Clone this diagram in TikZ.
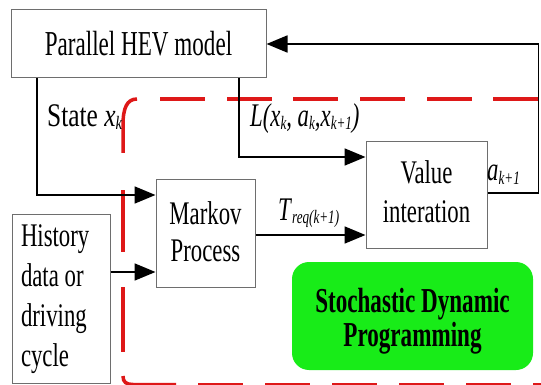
\documentclass[tikz,border=0pt]{standalone}
\usepackage{fontspec}
\setmainfont{Liberation Serif}
\usetikzlibrary{arrows.meta}
\definecolor{sdpgreen}{RGB}{24,236,24}
\definecolor{dashred}{RGB}{222,24,24}
\definecolor{boxgray}{RGB}{110,110,110}
\newcommand\sqz[1]{\scalebox{0.69}[1]{#1}}
\newcommand\lsub[1]{\raisebox{-3pt}{\fontsize{19}{19}\selectfont\itshape #1}}
\begin{document}
\begin{tikzpicture}[x=1pt,y=-1pt,
  box/.style={draw=boxgray, line width=1pt, fill=white, inner sep=0pt},
  arr/.style={line width=1.8pt, line join=miter, -{Triangle[length=21pt,width=17pt]}},
  redd/.style={draw=dashred, line width=3.5pt},
  lbl/.style={inner sep=0pt, font=\fontsize{33}{40}\selectfont},
  txt/.style={font=\fontsize{33}{40}\selectfont}
]
\path[use as bounding box, fill=white] (0,0) rectangle (541,385);

% red dashed frame of the SDP block
\foreach \a in {160,227,293,360,427,493} \draw[redd] (\a,99) -- ++(45,0);
\draw[redd] (137,99) .. controls (127,99) and (123,108) .. (123,125) -- (123,153);
\draw[redd] (123,190) -- (123,252);
\draw[redd] (123,287) -- (123,352);
\draw[redd] (123,376) .. controls (123,382) and (126,384.5) .. (133,384.5) -- (176,384.5);
\foreach \a in {198,265,332,399,466,533} \draw[redd] (\a,384.5) -- ++(45,0);

% boxes
\node[box, minimum width=255pt, minimum height=68pt, font=\fontsize{35}{40}\selectfont] (hev) at (138.5,44) {\scalebox{0.66}[1]{Parallel HEV model}};
\node[box, minimum width=99pt, minimum height=107pt, font=\fontsize{33}{37}\selectfont] (markov) at (205.5,233.5) {\raisebox{-2.5pt}[\height][\depth]{\sqz{\begin{tabular}{@{}c@{}}Markov\\Process\end{tabular}}}};
\node[box, minimum width=121pt, minimum height=106pt, txt] (value) at (426.5,195) {\sqz{\begin{tabular}{@{}c@{}}Value\\interation\end{tabular}}};
\node[box, minimum width=98pt, minimum height=169pt, txt] (history) at (61,298.5) {\makebox[80pt][l]{\sqz{\begin{tabular}{@{}l@{}}History\\data or\\driving\\cycle\end{tabular}}}};
\node[fill=sdpgreen, rounded corners=17pt, inner sep=0pt, minimum width=241pt, minimum height=108pt, font=\fontsize{35}{31}\selectfont\bfseries] (sdp) at (412.5,316) {\raisebox{-6pt}[\height][\depth]{\scalebox{0.66}[1]{\begin{tabular}{@{}c@{}}Stochastic Dynamic\\Programming\end{tabular}}}};

% helper coordinates for the x positions of the drops from the HEV model
\coordinate (sx) at (37,0);
\coordinate (lx) at (239,0);

% connectors
\draw[arr] (value.east) ++(0,-2) -- ++(51,0) |- (hev.east);
\draw[arr] (hev.south -| sx) |- ([yshift=38.5pt]markov.west);
\draw[arr] (hev.south -| lx) |- ([yshift=38pt]value.west);
\draw[arr] ([yshift=-1.5pt]markov.east) -- ([yshift=-1.5pt]markov.east -| value.west);
\draw[arr] ([yshift=26.5pt]history.east) -- ([yshift=26.5pt]history.east -| markov.west);

% labels
\node[lbl, anchor=base west] (st) at (47,127) {\scalebox{0.77}[1]{State \textit{x}\lsub{k}}};
\node[lbl, anchor=base west] (ll) at (250,127) {\sqz{\itshape L(x\lsub{k}, a\lsub{k},x\lsub{k+1})}};
\node[lbl, anchor=base west] (tl) at (278,220) {\sqz{\textit{T}\lsub{req(k+1)}}};
\node[lbl, anchor=base west] (al) at (487,181) {\sqz{\textit{a}\lsub{k+1}}};
\end{tikzpicture}
\end{document}
